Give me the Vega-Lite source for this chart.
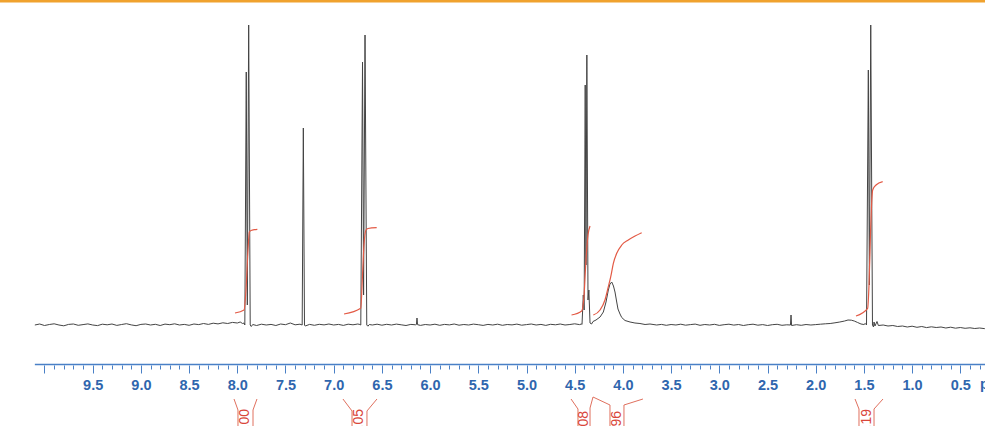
{
  "$schema": "https://vega.github.io/schema/vega-lite/v6.json",
  "width": 985,
  "height": 426,
  "autosize": {"type": "none"},
  "padding": 0,
  "background": "white",
  "config": {"view": {"stroke": null}},
  "datasets": {
    "spectrum": [
      {"ppm":10.10,"value":0},{"ppm":10.05,"value":1},{"ppm":10.00,"value":-0.5},{"ppm":9.95,"value":0.5},{"ppm":9.90,"value":1.2},{"ppm":9.85,"value":0},{"ppm":9.80,"value":-0.8},{"ppm":9.75,"value":0.6},{"ppm":9.70,"value":1},{"ppm":9.65,"value":-0.3},{"ppm":9.60,"value":0.4},{"ppm":9.55,"value":1.1},{"ppm":9.50,"value":0},{"ppm":9.45,"value":-0.6},{"ppm":9.40,"value":0.8},{"ppm":9.35,"value":0.2},{"ppm":9.30,"value":1},{"ppm":9.25,"value":-0.4},{"ppm":9.20,"value":0.5},{"ppm":9.15,"value":1.3},{"ppm":9.10,"value":0.1},{"ppm":9.05,"value":-0.7},{"ppm":9.00,"value":0.6},{"ppm":8.95,"value":1},{"ppm":8.90,"value":0},{"ppm":8.85,"value":0.7},{"ppm":8.80,"value":-0.5},{"ppm":8.75,"value":0.9},{"ppm":8.70,"value":0.3},{"ppm":8.65,"value":1.2},{"ppm":8.60,"value":0},{"ppm":8.55,"value":0.6},{"ppm":8.50,"value":-0.3},{"ppm":8.45,"value":1},{"ppm":8.40,"value":0.4},{"ppm":8.35,"value":1.5},{"ppm":8.30,"value":0.6},{"ppm":8.25,"value":1.8},{"ppm":8.20,"value":1.1},{"ppm":8.15,"value":2.2},{"ppm":8.10,"value":1.5},{"ppm":8.05,"value":2.6},{"ppm":8.00,"value":2},{"ppm":7.97,"value":3},{"ppm":7.945,"value":1.5},
      {"ppm":7.930,"value":2},{"ppm":7.922,"value":0},{"ppm":7.907,"value":253},{"ppm":7.896,"value":20},{"ppm":7.882,"value":300},{"ppm":7.866,"value":0},{"ppm":7.855,"value":-1.5},{"ppm":7.84,"value":0.5},
      {"ppm":7.80,"value":-0.5},{"ppm":7.75,"value":0.8},{"ppm":7.70,"value":0},{"ppm":7.65,"value":0.6},{"ppm":7.60,"value":-0.5},{"ppm":7.55,"value":1},{"ppm":7.50,"value":0.3},{"ppm":7.45,"value":2},{"ppm":7.40,"value":0.2},{"ppm":7.35,"value":0.8},
      {"ppm":7.327,"value":0},{"ppm":7.315,"value":197},{"ppm":7.303,"value":0},{"ppm":7.295,"value":-1},
      {"ppm":7.25,"value":0.6},{"ppm":7.20,"value":-0.3},{"ppm":7.15,"value":0.7},{"ppm":7.10,"value":0.1},{"ppm":7.05,"value":1},{"ppm":7.00,"value":0},{"ppm":6.95,"value":0.6},{"ppm":6.90,"value":-0.4},{"ppm":6.85,"value":0.8},{"ppm":6.80,"value":0.2},{"ppm":6.75,"value":1},{"ppm":6.728,"value":0.5},
      {"ppm":6.719,"value":0},{"ppm":6.701,"value":263},{"ppm":6.690,"value":30},{"ppm":6.675,"value":290},{"ppm":6.657,"value":0},{"ppm":6.645,"value":-1.2},{"ppm":6.63,"value":0.5},
      {"ppm":6.60,"value":0},{"ppm":6.55,"value":0.8},{"ppm":6.50,"value":-0.2},{"ppm":6.45,"value":0.7},{"ppm":6.40,"value":0},{"ppm":6.35,"value":0.9},{"ppm":6.30,"value":0.2},{"ppm":6.25,"value":-0.5},{"ppm":6.20,"value":0.6},{"ppm":6.15,"value":0.2},{"ppm":6.142,"value":0.5},{"ppm":6.136,"value":7},{"ppm":6.130,"value":0.3},
      {"ppm":6.10,"value":-0.4},{"ppm":6.05,"value":0.5},{"ppm":6.00,"value":0},{"ppm":5.95,"value":0.8},{"ppm":5.90,"value":-0.3},{"ppm":5.85,"value":0.6},{"ppm":5.80,"value":0.1},{"ppm":5.75,"value":1},{"ppm":5.70,"value":-0.2},{"ppm":5.65,"value":0.5},{"ppm":5.60,"value":0},{"ppm":5.55,"value":0.9},{"ppm":5.50,"value":0.3},{"ppm":5.45,"value":-0.4},{"ppm":5.40,"value":0.6},{"ppm":5.35,"value":0},{"ppm":5.30,"value":0.8},{"ppm":5.25,"value":-0.3},{"ppm":5.20,"value":0.5},{"ppm":5.15,"value":0.1},{"ppm":5.10,"value":0.9},{"ppm":5.05,"value":-0.2},{"ppm":5.00,"value":0.4},{"ppm":4.95,"value":1},{"ppm":4.90,"value":0},{"ppm":4.85,"value":0.6},{"ppm":4.80,"value":-0.4},{"ppm":4.75,"value":0.7},{"ppm":4.70,"value":0.2},{"ppm":4.65,"value":1},{"ppm":4.60,"value":0},{"ppm":4.55,"value":0.5},{"ppm":4.50,"value":1.2},{"ppm":4.45,"value":0.4},{"ppm":4.43,"value":1},
      {"ppm":4.424,"value":0.5},{"ppm":4.411,"value":30},{"ppm":4.402,"value":15},{"ppm":4.391,"value":240},{"ppm":4.383,"value":60},{"ppm":4.374,"value":270},{"ppm":4.362,"value":25},{"ppm":4.353,"value":35},{"ppm":4.341,"value":2},{"ppm":4.325,"value":1},{"ppm":4.31,"value":3.5},
      {"ppm":4.279,"value":5},{"ppm":4.237,"value":8},{"ppm":4.203,"value":13},{"ppm":4.175,"value":23},{"ppm":4.151,"value":35},{"ppm":4.134,"value":41},{"ppm":4.116,"value":43},{"ppm":4.098,"value":39},{"ppm":4.082,"value":33},{"ppm":4.066,"value":24},{"ppm":4.051,"value":16},{"ppm":4.030,"value":11},{"ppm":4.012,"value":7.5},{"ppm":3.978,"value":4.5},{"ppm":3.926,"value":3},{"ppm":3.875,"value":2},{"ppm":3.823,"value":1.5},{"ppm":3.77,"value":0.5},{"ppm":3.719,"value":1},
      {"ppm":3.65,"value":0},{"ppm":3.60,"value":0.6},{"ppm":3.55,"value":-0.3},{"ppm":3.50,"value":0.5},{"ppm":3.45,"value":0},{"ppm":3.40,"value":0.8},{"ppm":3.35,"value":-0.2},{"ppm":3.30,"value":0.4},{"ppm":3.25,"value":0.9},{"ppm":3.20,"value":-0.3},{"ppm":3.15,"value":0.5},{"ppm":3.10,"value":0},{"ppm":3.05,"value":0.7},{"ppm":3.00,"value":-0.4},{"ppm":2.95,"value":0.3},{"ppm":2.90,"value":0.8},{"ppm":2.85,"value":-0.1},{"ppm":2.80,"value":0.5},{"ppm":2.75,"value":-0.5},{"ppm":2.70,"value":0.3},{"ppm":2.65,"value":0.8},{"ppm":2.60,"value":-0.2},{"ppm":2.55,"value":0.4},{"ppm":2.50,"value":-0.5},{"ppm":2.45,"value":0.3},{"ppm":2.40,"value":0.7},{"ppm":2.35,"value":-0.3},{"ppm":2.30,"value":0.2},
      {"ppm":2.262,"value":0},{"ppm":2.256,"value":10},{"ppm":2.250,"value":-0.5},
      {"ppm":2.20,"value":0.3},{"ppm":2.15,"value":-0.3},{"ppm":2.10,"value":0.5},{"ppm":2.05,"value":0},{"ppm":2.00,"value":0.4},{"ppm":1.95,"value":0.8},{"ppm":1.90,"value":1.2},{"ppm":1.85,"value":1.5},{"ppm":1.80,"value":2.2},{"ppm":1.75,"value":3},{"ppm":1.70,"value":4},{"ppm":1.665,"value":5},{"ppm":1.63,"value":4.8},{"ppm":1.60,"value":4},{"ppm":1.565,"value":2.5},{"ppm":1.53,"value":1},{"ppm":1.50,"value":0.5},{"ppm":1.485,"value":1.5},
      {"ppm":1.473,"value":0},{"ppm":1.454,"value":255},{"ppm":1.443,"value":40},{"ppm":1.429,"value":300},{"ppm":1.411,"value":0},{"ppm":1.40,"value":-2},{"ppm":1.395,"value":3},{"ppm":1.385,"value":-1},{"ppm":1.364,"value":3.5},{"ppm":1.35,"value":-0.5},
      {"ppm":1.30,"value":0},{"ppm":1.25,"value":-1},{"ppm":1.20,"value":-0.5},{"ppm":1.15,"value":-1.5},{"ppm":1.10,"value":-1},{"ppm":1.05,"value":-2},{"ppm":1.00,"value":-1.2},{"ppm":0.95,"value":-2.3},{"ppm":0.90,"value":-1.5},{"ppm":0.85,"value":-2.6},{"ppm":0.80,"value":-1.8},{"ppm":0.75,"value":-2.5},{"ppm":0.70,"value":-2},{"ppm":0.65,"value":-3},{"ppm":0.60,"value":-2.2},{"ppm":0.55,"value":-3.2},{"ppm":0.50,"value":-2.5},{"ppm":0.45,"value":-3.3},{"ppm":0.40,"value":-2.8},{"ppm":0.35,"value":-3.5},{"ppm":0.30,"value":-3},{"ppm":0.25,"value":-3.6},{"ppm":0.20,"value":-3.3}
    ],
    "integrals": [
      {"region":"A","ppm":8.024,"value":12},{"region":"A","ppm":7.930,"value":15},{"region":"A","ppm":7.910,"value":35},{"region":"A","ppm":7.889,"value":75},{"region":"A","ppm":7.875,"value":93},{"region":"A","ppm":7.858,"value":94.5},{"region":"A","ppm":7.792,"value":95.7},
      {"region":"B","ppm":6.893,"value":11},{"region":"B","ppm":6.720,"value":16.7},{"region":"B","ppm":6.701,"value":50},{"region":"B","ppm":6.686,"value":80},{"region":"B","ppm":6.665,"value":95},{"region":"B","ppm":6.644,"value":96.5},{"region":"B","ppm":6.554,"value":97.3},
      {"region":"C","ppm":4.533,"value":10},{"region":"C","ppm":4.427,"value":14},{"region":"C","ppm":4.403,"value":30},{"region":"C","ppm":4.383,"value":65},{"region":"C","ppm":4.362,"value":90},{"region":"C","ppm":4.341,"value":99},
      {"region":"D","ppm":4.307,"value":10},{"region":"D","ppm":4.237,"value":15},{"region":"D","ppm":4.186,"value":25},{"region":"D","ppm":4.151,"value":38.3},{"region":"D","ppm":4.126,"value":48.3},{"region":"D","ppm":4.099,"value":61.7},{"region":"D","ppm":4.064,"value":71.7},{"region":"D","ppm":4.012,"value":80},{"region":"D","ppm":3.944,"value":85},{"region":"D","ppm":3.874,"value":89},{"region":"D","ppm":3.805,"value":92.3},
      {"region":"E","ppm":1.582,"value":9},{"region":"E","ppm":1.461,"value":16.7},{"region":"E","ppm":1.447,"value":40},{"region":"E","ppm":1.432,"value":90},{"region":"E","ppm":1.418,"value":125},{"region":"E","ppm":1.409,"value":135},{"region":"E","ppm":1.374,"value":140},{"region":"E","ppm":1.305,"value":143.3}
    ],
    "brackets": [
      {"seg":"A1","i":0,"ppm":8.034,"value":-74},{"seg":"A1","i":1,"ppm":7.993,"value":-85},{"seg":"A1","i":2,"ppm":7.993,"value":-101},
      {"seg":"A2","i":0,"ppm":7.796,"value":-74},{"seg":"A2","i":1,"ppm":7.837,"value":-85},{"seg":"A2","i":2,"ppm":7.837,"value":-101},
      {"seg":"B1","i":0,"ppm":6.904,"value":-74},{"seg":"B1","i":1,"ppm":6.810,"value":-86},{"seg":"B1","i":2,"ppm":6.810,"value":-101},
      {"seg":"B2","i":0,"ppm":6.551,"value":-74},{"seg":"B2","i":1,"ppm":6.655,"value":-86},{"seg":"B2","i":2,"ppm":6.655,"value":-101},
      {"seg":"C1","i":0,"ppm":4.538,"value":-74},{"seg":"C1","i":1,"ppm":4.466,"value":-84},{"seg":"C1","i":2,"ppm":4.466,"value":-101},
      {"seg":"C2","i":0,"ppm":4.310,"value":-72},{"seg":"C2","i":1,"ppm":4.341,"value":-83},{"seg":"C2","i":2,"ppm":4.341,"value":-101},
      {"seg":"D1","i":0,"ppm":4.310,"value":-72},{"seg":"D1","i":1,"ppm":4.134,"value":-80},{"seg":"D1","i":2,"ppm":4.134,"value":-101},
      {"seg":"D2","i":0,"ppm":3.792,"value":-74},{"seg":"D2","i":1,"ppm":3.989,"value":-80},{"seg":"D2","i":2,"ppm":3.989,"value":-101},
      {"seg":"E1","i":0,"ppm":1.592,"value":-74},{"seg":"E1","i":1,"ppm":1.551,"value":-84},{"seg":"E1","i":2,"ppm":1.551,"value":-101},
      {"seg":"E2","i":0,"ppm":1.302,"value":-74},{"seg":"E2","i":1,"ppm":1.395,"value":-84},{"seg":"E2","i":2,"ppm":1.395,"value":-101}
    ],
    "labels": [
      {"ppm":7.915,"value":-84,"label":"2.00"},
      {"ppm":6.735,"value":-84,"label":"2.05"},
      {"ppm":4.405,"value":-86,"label":"2.08"},
      {"ppm":4.062,"value":-86,"label":"1.96"},
      {"ppm":1.473,"value":-84,"label":"3.19"}
    ]
  },
  "encoding": {
    "x": {
      "field": "ppm",
      "type": "quantitative",
      "scale": {"domain": [0.2438, 10.4616], "reverse": true, "nice": false, "zero": false},
      "axis": {
        "orient": "bottom",
        "offset": -61,
        "domain": false,
        "grid": false,
        "title": null,
        "values": [10,9.9,9.8,9.7,9.6,9.5,9.4,9.3,9.2,9.1,9,8.9,8.8,8.7,8.6,8.5,8.4,8.3,8.2,8.1,8,7.9,7.8,7.7,7.6,7.5,7.4,7.3,7.2,7.1,7,6.9,6.8,6.7,6.6,6.5,6.4,6.3,6.2,6.1,6,5.9,5.8,5.7,5.6,5.5,5.4,5.3,5.2,5.1,5,4.9,4.8,4.7,4.6,4.5,4.4,4.3,4.2,4.1,4,3.9,3.8,3.7,3.6,3.5,3.4,3.3,3.2,3.1,3,2.9,2.8,2.7,2.6,2.5,2.4,2.3,2.2,2.1,2,1.9,1.8,1.7,1.6,1.5,1.4,1.3,1.2,1.1,1,0.9,0.8,0.7,0.6,0.5,0.4,0.3],
        "tickColor": "#4a80c6",
        "tickWidth": 1,
        "tickSize": {"condition": {"test": "abs(round(datum.value*10)) % 5 === 0", "value": 8}, "value": 4},
        "labelExpr": "(abs(round(datum.value*10)) % 5 === 0 && datum.value < 9.95) ? format(datum.value, '.1f') : ''",
        "labelFont": "Liberation Sans",
        "labelFontWeight": "bold",
        "labelFontSize": 14.5,
        "labelColor": "#2f66ae",
        "labelPadding": 5,
        "labelOverlap": false,
        "labelFlush": false,
        "labelBound": false
      }
    },
    "y": {
      "field": "value",
      "type": "quantitative",
      "scale": {"domain": [-101, 325], "nice": false, "zero": false},
      "axis": null
    }
  },
  "layer": [
    {
      "data": {"values": [{"ppm": 10.4616, "ppm2": 0.2438, "value": 324}]},
      "mark": {"type": "rule", "color": "#f0a22e", "strokeWidth": 3, "clip": true},
      "encoding": {"x2": {"field": "ppm2"}}
    },
    {
      "data": {"values": [{"ppm": 10.1, "ppm2": 0.2438, "value": -39.5}]},
      "mark": {"type": "rule", "color": "#4a80c6", "strokeWidth": 1.5},
      "encoding": {"x2": {"field": "ppm2"}}
    },
    {
      "data": {"name": "spectrum"},
      "mark": {"type": "line", "color": "#444444", "strokeWidth": 1, "clip": true},
      "encoding": {}
    },
    {
      "data": {"name": "integrals"},
      "mark": {"type": "line", "color": "#e35a45", "strokeWidth": 1.2, "interpolate": "monotone"},
      "encoding": {"detail": {"field": "region"}}
    },
    {
      "data": {"name": "brackets"},
      "mark": {"type": "line", "color": "#e0705e", "strokeWidth": 1},
      "encoding": {"detail": {"field": "seg"}, "order": {"field": "i"}}
    },
    {
      "data": {"name": "labels"},
      "mark": {"type": "text", "color": "#d9463a", "font": "Liberation Sans", "fontSize": 14, "angle": 270, "align": "right", "baseline": "middle"},
      "encoding": {"text": {"field": "label"}}
    },
    {
      "data": {"values": [{"ppm": 0.295, "value": -53, "label": "ppm"}]},
      "mark": {"type": "text", "color": "#2f66ae", "font": "Liberation Sans", "fontSize": 14.5, "fontWeight": "bold", "align": "left", "baseline": "top"},
      "encoding": {"text": {"field": "label"}}
    }
  ]
}
